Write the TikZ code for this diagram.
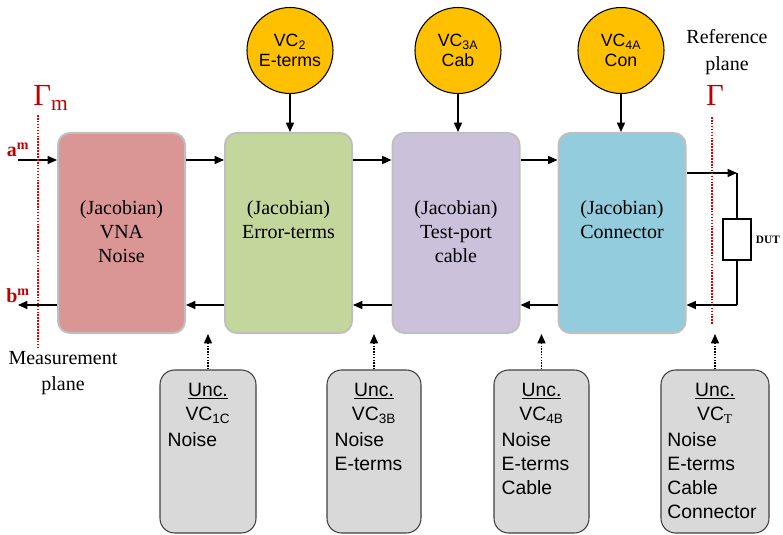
\documentclass[tikz,border=0pt]{standalone}
\usepackage{fontspec}
\setmainfont{Liberation Serif}
\setsansfont{Liberation Sans}
\usetikzlibrary{arrows.meta,positioning}

\definecolor{vnared}{HTML}{D99694}
\definecolor{errgreen}{HTML}{C3D69B}
\definecolor{cabpurple}{HTML}{CCC1DA}
\definecolor{conblue}{HTML}{93CDDD}
\definecolor{vcgold}{HTML}{FFC000}
\definecolor{uncgray}{HTML}{D9D9D9}
\definecolor{uncedge}{HTML}{404040}
\definecolor{boxgray}{HTML}{BFBFBF}
\definecolor{planered}{HTML}{E00000}
\definecolor{gammared}{HTML}{C00000}

\tikzset{
  jacbox/.style={draw=boxgray, line width=1.5pt, rounded corners=9pt, minimum width=95.25pt, minimum height=150pt},
  jactext/.style={font=\fontsize{15}{18}\selectfont, align=center, inner sep=0pt},
  vccircle/.style={circle, draw, line width=0.8pt, fill=vcgold, minimum size=64.5pt, inner sep=0pt, align=center, font=\sffamily\fontsize{13.3}{14.5}\selectfont},
  uncbox/.style={draw=uncedge, fill=uncgray, rounded corners=11pt, minimum height=122.25pt, line width=0.8pt},
  unchead/.style={font=\sffamily\fontsize{14.5}{18}\selectfont, align=center, inner sep=0pt},
  unclist/.style={font=\sffamily\fontsize{14.5}{18}\selectfont, align=left, inner sep=0pt},
  flow/.style={-{Triangle[length=7pt,width=6pt]}, line width=1.1pt},
  feed/.style={-{Triangle[length=7pt,width=6pt]}, densely dotted, line width=1.1pt},
  plane/.style={draw=planered, densely dotted, line width=1.2pt},
  gammatext/.style={text=gammared, font=\fontsize{23}{23}\selectfont},
  wavetext/.style={text=gammared, font=\bfseries\fontsize{15}{15}\selectfont},
  planetext/.style={font=\fontsize{15}{20}\selectfont, align=center}
}

\begin{document}
\begin{tikzpicture}[x=0.75pt,y=-0.75pt]
\useasboundingbox (0,0) rectangle (783,535);

% jacobian blocks
\node[jacbox, fill=vnared] (vna) at (121.5,233) {};
\node[jacbox, fill=errgreen] (err) at (288.5,233) {};
\node[jacbox, fill=cabpurple] (cab) at (456,233) {};
\node[jacbox, fill=conblue] (con) at (622,233) {};
\node[jactext, below=51pt of vna.north] (vnatext) {(Jacobian)\\VNA\\Noise};
\node[jactext, below=51pt of err.north] (errtext) {(Jacobian)\\Error-terms};
\node[jactext, below=51pt of cab.north] (cabtext) {(Jacobian)\\Test-port\\cable};
\node[jactext, below=51pt of con.north] (context) {(Jacobian)\\Connector};

% covariance inputs
\node[vccircle] (vc2) at (290,50.5) {VC\textsubscript{2}\\E-terms};
\node[vccircle] (vc3a) at (458,50.5) {VC\textsubscript{3A}\\Cab};
\node[vccircle] (vc4a) at (621,50.5) {VC\textsubscript{4A}\\Con};
\draw[flow] (vc2.south) -- (vc2.south |- err.north);
\draw[flow] (vc3a.south) -- (vc3a.south |- cab.north);
\draw[flow] (vc4a.south) -- (vc4a.south |- con.north);

% uncertainty boxes
\node[uncbox, minimum width=72pt] (unc1) at (208,451.5) {};
\node[uncbox, minimum width=70.5pt] (unc2) at (374,451.5) {};
\node[uncbox, minimum width=71.25pt] (unc3) at (541.5,451.5) {};
\node[uncbox, minimum width=81pt] (unc4) at (715,451.5) {};
\node[unchead, below=10pt of unc1.north] (head1) {\underline{Unc.}\\VC\textsubscript{1C}};
\node[unchead, below=10pt of unc2.north] (head2) {\underline{Unc.}\\VC\textsubscript{3B}};
\node[unchead, below=10pt of unc3.north] (head3) {\underline{Unc.}\\VC\textsubscript{4B}};
\node[unchead, below=10pt of unc4.north] (head4) {\underline{Unc.}\\VC\textsubscript{\rmfamily T}};
\node[unclist, below right=47pt and 6pt of unc1.north west] (list1) {Noise};
\node[unclist, below right=47pt and 6pt of unc2.north west] (list2) {Noise\\E-terms};
\node[unclist, below right=47pt and 6pt of unc3.north west] (list3) {Noise\\E-terms\\Cable};
\node[unclist, below right=47pt and 5pt of unc4.north west] (list4) {Noise\\E-terms\\Cable\\Connector};
\draw[feed] (unc1.north) -- (unc1.north |- vna.south);
\draw[feed] (unc2.north) -- (unc2.north |- vna.south);
\draw[feed] (unc3.north) -- (unc3.north |- vna.south);
\draw[feed] (unc4.north) -- (unc4.north |- vna.south);

% waves
\coordinate (ain) at (18,160);
\coordinate (bout) at (18,305);
\draw[flow] (ain) -- (vna.west |- ain);
\draw[flow] (vna.east |- ain) -- (err.west |- ain);
\draw[flow] (err.east |- ain) -- (cab.west |- ain);
\draw[flow] (cab.east |- ain) -- (con.west |- ain);
\draw[flow] (vna.west |- bout) -- (bout);
\draw[flow] (err.west |- bout) -- (vna.east |- bout);
\draw[flow] (cab.west |- bout) -- (err.east |- bout);
\draw[flow] (con.west |- bout) -- (cab.east |- bout);
\node[wavetext] (alabel) at (18,150) {a\textsuperscript{m}};
\node[wavetext] (blabel) at (18,296) {b\textsuperscript{m}};

% DUT
\coordinate (dtop) at (737,173);
\coordinate (dbot) at (737,305);
\node[draw, line width=1pt, minimum width=21pt, minimum height=30.75pt, inner sep=0pt] (dut) at (737,239.5) {};
\node[right=3pt of dut, inner sep=0pt, font=\bfseries\fontsize{8.5}{8.5}\selectfont] (dutlabel) {DUT};
\draw[flow] (con.east |- dtop) -- (dtop);
\draw[line width=1.1pt] (dtop) -- (dut.north);
\draw[line width=1.1pt] (dut.south) -- (dbot);
\draw[flow] (dbot) -- (con.east |- dbot);

% planes
\coordinate (mtop) at (38,115);
\coordinate (mbot) at (38,347);
\coordinate (rtop) at (712,117);
\coordinate (rbot) at (712,325);
\draw[plane] (mtop) -- (mbot);
\draw[plane] (rtop) -- (rbot);
\node[gammatext] (gm) at (51,98) {Γ\textsubscript{m}};
\node[gammatext] (gr) at (715,95) {Γ};
\node[planetext] (mplane) at (63,373) {Measurement\\plane};
\node[planetext] (rplane) at (727,52) {Reference\\plane};
\end{tikzpicture}
\end{document}
